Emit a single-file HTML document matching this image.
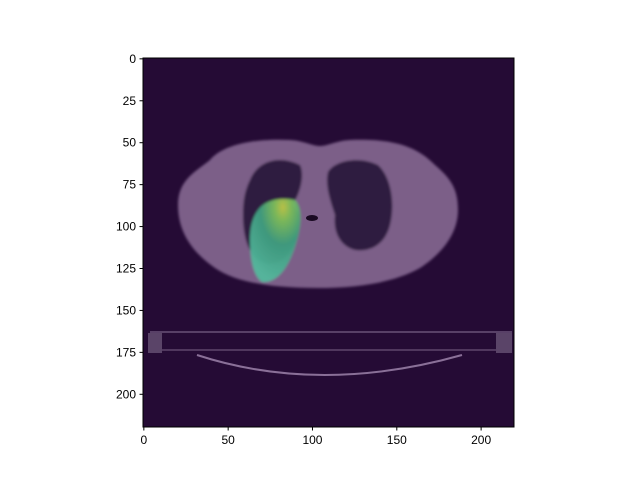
<!DOCTYPE html>
<html><head><meta charset="utf-8"><style>
body{margin:0;background:#fff;}
svg text{font-family:"Liberation Sans",sans-serif;font-size:12px;fill:#000;}
</style></head><body>
<svg width="640" height="480" viewBox="0 0 640 480">
<defs>
<radialGradient id="tum" cx="0.65" cy="0.1" r="0.9">
<stop offset="0" stop-color="#c0c848"/>
<stop offset="0.18" stop-color="#7fbf5a"/>
<stop offset="0.5" stop-color="#3f9e80"/>
<stop offset="1" stop-color="#52b89c"/>
</radialGradient>
<filter id="blur"><feGaussianBlur stdDeviation="1.2"/></filter>
</defs>
<g>
<rect x="143" y="58" width="371" height="369" fill="#250b35"/>
<g filter="url(#blur)">
<path d="M178,205 C178,180 195,172 210,160 C220,148 245,138 290,140 C305,141 312,146 320,146 C328,146 335,141 350,140 C400,138 420,150 435,165 C450,178 458,188 458,210 C458,235 440,255 420,268 C395,282 360,288 318,288 C270,288 235,282 215,268 C192,252 178,232 178,205 Z" fill="#7c5f88"/>
<path d="M250,180 C258,160 280,155 300,165 C305,175 300,195 292,205 L300,215 C300,240 290,262 270,264 C250,262 243,240 243,215 C243,200 245,190 250,180 Z" fill="#2f1a40"/>
<path d="M328,172 C335,160 360,156 378,165 C392,178 395,205 390,225 C385,245 370,252 355,250 C340,246 333,232 335,215 C330,200 325,185 328,172 Z" fill="#2f1a40"/>
<path d="M258,210 C265,200 280,197 295,200 C305,210 300,235 292,255 C285,272 275,283 262,282 C252,275 250,255 250,240 C250,228 252,218 258,210 Z" fill="url(#tum)" opacity="0.95"/>
</g>
<ellipse cx="312" cy="218" rx="6" ry="3" fill="#1a0a22"/>
<line x1="150" y1="332" x2="512" y2="332" stroke="#6a5278" stroke-width="1.5"/>
<line x1="150" y1="350" x2="512" y2="350" stroke="#6a5278" stroke-width="1.2"/>
<rect x="148" y="333" width="14" height="20" fill="#5a4468"/>
<rect x="496" y="333" width="16" height="20" fill="#5a4468"/>
<path d="M197,355 Q320,395 462,355" stroke="#8a7098" stroke-width="2" fill="none"/>
</g>
<rect x="143" y="58" width="371" height="369" fill="none" stroke="#000" stroke-width="1"/>
<g id="yticks"></g>
<g id="xticks"></g>
</svg>
<script>
const xTicks=[0,50,100,150,200];
const yTicks=[0,25,50,75,100,125,150,175,200];
const x0=143,x1=514,y0=58,y1=427,dmin=-0.5,dmax=219.5;
function sx(v){return x0+(v-dmin)/(dmax-dmin)*(x1-x0);}
function sy(v){return y0+(v-dmin)/(dmax-dmin)*(y1-y0);}
const ns="http://www.w3.org/2000/svg";
const yg=document.getElementById('yticks'),xg=document.getElementById('xticks');
yTicks.forEach(v=>{
 const l=document.createElementNS(ns,'line');
 l.setAttribute('x1',x0-3.5);l.setAttribute('x2',x0);l.setAttribute('y1',sy(v));l.setAttribute('y2',sy(v));l.setAttribute('stroke','#000');
 
 
 yg.appendChild(l);
 const t=document.createElementNS(ns,'text');
 t.setAttribute('x',x0-7);t.setAttribute('y',sy(v)+4);t.setAttribute('text-anchor','end');t.textContent=v;
 
 
 yg.appendChild(t);
});
xTicks.forEach(v=>{
 const l=document.createElementNS(ns,'line');
 l.setAttribute('x1',sx(v));l.setAttribute('x2',sx(v));l.setAttribute('y1',y1);l.setAttribute('y2',y1+3.5);l.setAttribute('stroke','#000');
 
 
 xg.appendChild(l);
 const t=document.createElementNS(ns,'text');
 t.setAttribute('x',sx(v));t.setAttribute('y',y1+17);t.setAttribute('text-anchor','middle');t.textContent=v;
 
 
 xg.appendChild(t);
});
</script>
</body></html>
